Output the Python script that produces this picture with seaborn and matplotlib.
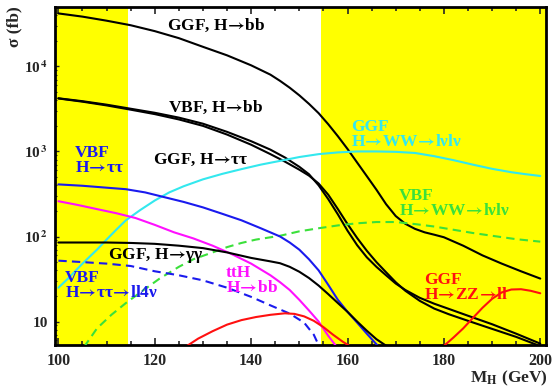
import matplotlib
matplotlib.use('Agg')
import matplotlib.pyplot as plt
import seaborn as sns
from matplotlib.ticker import MultipleLocator, LogLocator, NullFormatter

# ===== data =====
m_ggf_bb = [100, 105, 110, 115, 120, 125, 130, 135, 140, 144, 146, 148, 150, 152, 154, 156, 158, 160, 162, 164,
            166, 168, 170, 172, 174, 176, 178, 180, 184, 188, 192, 196, 200]
xs_ggf_bb = [42000, 38500, 34500, 30500, 26000, 21500, 17000, 13500, 10300, 8000, 6760, 5620, 4570, 3630, 2820,
             2090, 1510, 1070, 740, 513, 355, 240, 174, 141, 123, 112, 105, 98, 78, 60, 48, 39, 32]

m_vbf_bb = [100, 105, 110, 115, 120, 125, 130, 135, 140, 144, 147, 150, 152, 154, 156, 158, 160, 162, 164, 166,
            168, 170, 172, 175, 178, 181, 185, 190, 195, 200]
xs_vbf_bb = [4220, 3900, 3550, 3180, 2850, 2500, 2120, 1700, 1320, 1050, 850, 660, 540, 400, 275, 182, 117, 79,
             57, 44, 35, 28, 23.5, 19, 16.2, 14.1, 11.7, 9.3, 7.2, 5.5]

m_ggf_tautau = [100, 105, 110, 115, 120, 125, 130, 135, 140, 144, 147, 150, 152, 154, 156, 158, 160, 162, 164,
                166, 168, 170, 172, 175, 178, 181, 185, 190, 195, 199, 200]
xs_ggf_tautau = [4200, 3850, 3480, 3100, 2750, 2380, 2000, 1580, 1200, 930, 760, 610, 520, 420, 310, 210, 140,
                 96, 68, 50, 38, 29, 23, 17.5, 14.2, 12.2, 10.2, 8.2, 6.6, 5.4, 5.1]

m_ggf_ww = [100, 102, 105, 108, 110, 112, 114, 117, 120, 123, 126, 130, 134, 138, 142, 146, 150, 154, 158, 162,
            166, 170, 174, 178, 182, 186, 190, 194, 197, 200]
xs_ggf_ww = [25, 32, 48, 70, 92, 120, 155, 205, 265, 330, 390, 470, 545, 620, 700, 775, 860, 930, 975, 1000,
             1000, 990, 960, 880, 790, 700, 625, 570, 540, 515]

m_vbf_ww = [105.3, 108, 111, 114, 117, 121, 125, 128, 132, 135, 138, 141, 146, 150, 154, 158, 162, 166, 170,
            174, 178, 182, 186, 190, 195, 200]
xs_vbf_ww = [5.0, 8.3, 12, 16.5, 22, 32, 44, 54, 65, 75, 84, 92, 102, 115, 125, 135, 143, 148, 148, 140, 131,
             120, 110, 102, 93, 87]

m_vbf_tautau = [100, 105, 110, 114, 118, 122, 126, 130, 134, 138, 142, 146, 148, 150, 152, 154, 156, 158, 160,
                162, 164, 166, 166.6]
xs_vbf_tautau = [410, 395, 375, 360, 330, 290, 255, 220, 185, 155, 125, 100, 85, 70, 54, 40, 27, 18, 13, 9.7,
                 7.2, 5.4, 5.0]

m_tth_bb = [100, 104, 108, 112, 116, 120, 124, 128, 132, 136, 140, 144, 146, 148, 150, 152, 154, 156, 157.8]
xs_tth_bb = [260, 235, 210, 188, 165, 137, 112, 95, 78, 62, 48, 35, 29, 23.5, 18, 13.5, 10, 6.8, 5.0]

m_ggf_gg = [100, 105, 110, 115, 120, 125, 130, 135, 140, 144, 146, 148, 150, 152, 154, 156, 158, 160, 162, 164,
            166, 168, 168.7]
xs_ggf_gg = [85, 85, 85, 84, 82, 78, 73, 65, 56, 51, 48.5, 44, 38.5, 32.5, 26.5, 21, 16.5, 13, 10, 7.8, 6.2,
             5.2, 5.0]

m_vbf_ll4nu = [100, 105, 110, 115, 120, 125, 130, 135, 140, 144, 148, 151, 153, 154.2]
xs_vbf_ll4nu = [52, 50, 48, 45, 39, 35, 30.5, 25, 19.5, 15.5, 12.4, 9.7, 7, 5.0]

m_ggf_zz_lo = [126.3, 129, 132, 135, 138, 141, 144, 147, 149, 151, 153, 155, 157, 159, 160.8]
xs_ggf_zz_lo = [5.0, 6.3, 7.7, 9.2, 10.4, 11.3, 12, 12.5, 12.3, 11.5, 10.2, 8.6, 7, 5.8, 5.0]
m_ggf_zz_hi = [179.7, 182, 184, 186, 188, 190, 192, 194, 196, 198, 200]
xs_ggf_zz_hi = [5.0, 6.5, 8.3, 11, 14.5, 18.5, 22, 23.8, 24, 23, 21.5]

lep_band = (99.3, 114.4)
tev_band = (154.4, 201.2)

ytick_vals = [10, 100, 1000, 10000]
ytick_labels = ['10', '10$^{\\,\\mathbf{2}}$', '10$^{\\,\\mathbf{3}}$', '10$^{\\,\\mathbf{4}}$']

# ===== style =====
sns.set_style('ticks')
plt.rcParams['font.family'] = ['Liberation Serif', 'DejaVu Serif']
plt.rcParams['font.weight'] = 'bold'
plt.rcParams['mathtext.fontset'] = 'stix'

YEL = '#FFFF00'
CYAN = '#33E8EE'
GREEN = '#3BE03B'
BLUE = '#1A1AEE'
MAG = '#FF10FF'
RED = '#FF1010'
ARR = '$\\!\\rightarrow\\!$'

fig = plt.figure(figsize=(5.58, 3.9), dpi=100)
ax = fig.add_axes([0.0986, 0.1154, 0.88, 0.8667])

ax.axvspan(*lep_band, color=YEL, lw=0, zorder=0)
ax.axvspan(*tev_band, color=YEL, lw=0, zorder=0)

curves = [
    (m_ggf_bb, xs_ggf_bb, 'black', '-'),
    (m_vbf_bb, xs_vbf_bb, 'black', '-'),
    (m_ggf_tautau, xs_ggf_tautau, 'black', '-'),
    (m_ggf_ww, xs_ggf_ww, CYAN, '-'),
    (m_vbf_ww, xs_vbf_ww, GREEN, '--'),
    (m_vbf_tautau, xs_vbf_tautau, BLUE, '-'),
    (m_tth_bb, xs_tth_bb, MAG, '-'),
    (m_ggf_gg, xs_ggf_gg, 'black', '-'),
    (m_vbf_ll4nu, xs_vbf_ll4nu, BLUE, '--'),
    (m_ggf_zz_lo, xs_ggf_zz_lo, RED, '-'),
    (m_ggf_zz_hi, xs_ggf_zz_hi, RED, '-'),
]
for xv, yv, c, ls in curves:
    if ls == '--':
        sns.lineplot(x=xv, y=yv, ax=ax, color=c, lw=1.5, estimator=None,
                     linestyle=(0, (4, 2.5)), zorder=3)
    else:
        sns.lineplot(x=xv, y=yv, ax=ax, color=c, lw=1.5, estimator=None, zorder=3)

# labels on the curves
fs = 12.5
lab = dict(fontsize=fs, fontweight='bold', va='center', ha='left', linespacing=0.95, zorder=4)
ax.text(122.6, 30400, 'GGF, H' + ARR + 'bb', color='black', **lab)
ax.text(122.8, 3300, 'VBF, H' + ARR + 'bb', color='black', **lab)
ax.text(119.7, 805, 'GGF, H' + ARR + '\u03c4\u03c4', color='black', **lab)
ax.text(103.4, 783, 'VBF\nH' + ARR + '\u03c4\u03c4', color=BLUE, **lab)
ax.text(160.7, 1580, 'GGF\nH' + ARR + 'WW' + ARR + 'l\u03bdl\u03bd', color=CYAN, **lab)
ax.text(170.7, 245, 'VBF\nH' + ARR + 'WW' + ARR + 'l\u03bdl\u03bd', color=GREEN, **lab)
ax.text(110.3, 60, 'GGF, H' + ARR + '\u03b3\u03b3', color='black', **lab)
ax.text(101.3, 26.5, 'VBF\nH' + ARR + '\u03c4\u03c4' + ARR + 'll4\u03bd', color=BLUE, **lab)
ax.text(134.7, 30.5, 'ttH\nH' + ARR + 'bb', color=MAG, **lab)
ax.text(175.9, 25, 'GGF\nH' + ARR + 'ZZ' + ARR + 'll', color=RED, **lab)

# axes
ax.set_yscale('log')
ax.set_xlim(99.3, 201.2)
ax.set_ylim(5.3, 5.0e4)
ax.set_xticks([100, 120, 140, 160, 180, 200])
ax.xaxis.set_minor_locator(MultipleLocator(5))
ax.set_yticks(ytick_vals, ytick_labels)
ax.yaxis.set_minor_locator(LogLocator(subs=range(2, 10)))
ax.yaxis.set_minor_formatter(NullFormatter())
ax.set_xlabel('')
ax.set_ylabel('')

ax.tick_params(axis='x', which='major', direction='in', top=True, length=5, width=1.2,
               labelsize=11.5, pad=6)
ax.tick_params(axis='x', which='minor', direction='in', top=True, length=3, width=1.2)
ax.tick_params(axis='y', which='major', direction='in', length=3, width=1, labelsize=11, pad=5)
ax.tick_params(axis='y', which='minor', direction='in', length=1.5, width=0.8)
for lbl in ax.get_xticklabels() + ax.get_yticklabels():
    lbl.set_fontweight('bold')

for sp in ax.spines.values():
    sp.set_linewidth(2)
    sp.set_color('black')

fig.text(14 / 558, 1 - 6 / 390, '\u03c3 (fb)', rotation=90, ha='center', va='top', fontsize=12.5,
         fontweight='bold')
fig.text(548 / 558, 1 - 378 / 390, 'M$_{\\mathbf{H}}$ (GeV)', ha='right', va='center', fontsize=12.5,
         fontweight='bold')

fig.savefig('out.png', dpi=100)
